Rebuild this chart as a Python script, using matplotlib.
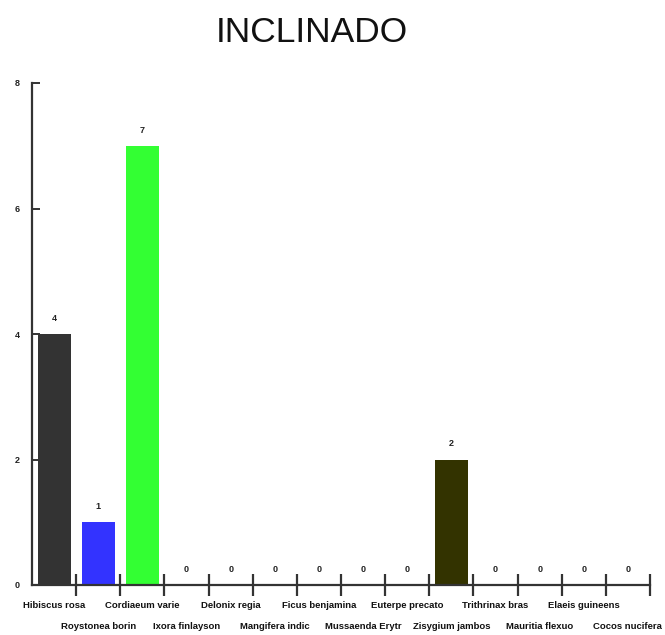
import matplotlib.pyplot as plt
from matplotlib.transforms import blended_transform_factory

plt.rcParams["font.family"] = ["Liberation Sans", "DejaVu Sans"]

species = [
    "Hibiscus rosa", "Roystonea borin", "Cordiaeum varie", "Ixora finlayson",
    "Delonix regia", "Mangifera indic", "Ficus benjamina", "Mussaenda Erytr",
    "Euterpe precato", "Zisygium jambos", "Trithrinax bras", "Mauritia flexuo",
    "Elaeis guineens", "Cocos nucifera",
]
counts = [4, 1, 7, 0, 0, 0, 0, 0, 0, 2, 0, 0, 0, 0]
bar_colors = [
    "#333333", "#3333ff", "#33ff33", "#333333", "#333333", "#333333", "#333333",
    "#333333", "#333333", "#333300", "#333333", "#333333", "#333333", "#333333",
]
y_ticks = [0, 2, 4, 6, 8]

fig = plt.figure(figsize=(6.65, 6.35), dpi=100)
ax = fig.add_axes([32 / 665, 1 - 585 / 635, 618 / 665, 502 / 635])

x = list(range(len(species)))
ax.bar(x, counts, width=0.75, color=bar_colors, edgecolor="none")

# value labels above each bar (zeros included)
for xi, v in zip(x, counts):
    ax.annotate(str(v), (xi, v), xytext=(0, 8), textcoords="offset points",
                ha="center", va="bottom", fontsize=6.5, fontweight="bold",
                color="#222222")

ax.set_xlim(-0.5, len(species) - 0.5)
ax.set_ylim(0, 8)

for side in ("top", "right"):
    ax.spines[side].set_visible(False)
for side in ("left", "bottom"):
    ax.spines[side].set_color("#333333")
    ax.spines[side].set_linewidth(1.6)

ax.set_yticks(y_ticks)
ax.set_yticklabels([str(t) for t in y_ticks], fontweight="bold")
ax.tick_params(axis="y", direction="in", length=6, width=1.4, color="#333333",
               labelsize=6.5, pad=9, labelcolor="#222222")
ax.set_xticks([i + 0.5 for i in x])
ax.set_xticklabels([])
ax.tick_params(axis="x", direction="inout", length=16, width=1.6, color="#333333")

# category names alternate between two rows
trans = blended_transform_factory(ax.transData, ax.transAxes)
for i, name in enumerate(species):
    y = -0.040 if i % 2 == 0 else -0.083
    ax.text(i, y, name, transform=trans, ha="center", va="center",
            fontsize=6.8, fontweight="bold", color="#111111")

fig.text(312 / 665, 1 - 33 / 635, "INCLINADO", ha="center", va="center",
         fontsize=25.5, color="#111111")

fig.savefig("out.png", dpi=100)
